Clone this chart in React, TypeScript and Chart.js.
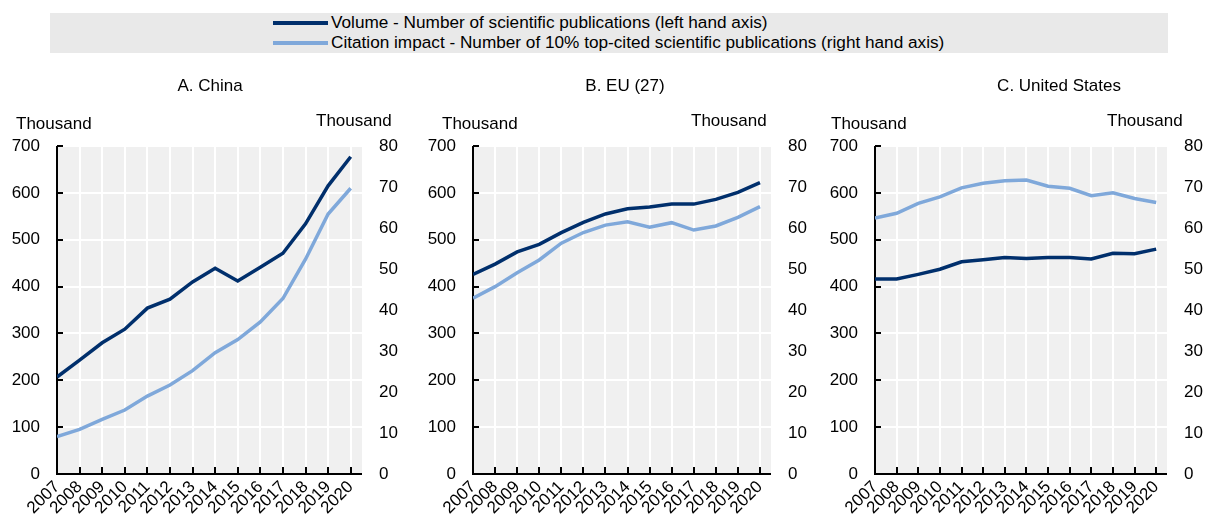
import React, { useEffect, useRef } from "react";
import { Chart, registerables } from "chart.js";

Chart.register(...registerables);

// ---------- DATA ----------
const years = [2007, 2008, 2009, 2010, 2011, 2012, 2013, 2014, 2015, 2016, 2017, 2018, 2019, 2020];

const chinaVolume = [207, 243, 280, 309, 354, 373, 410, 439, 412, 441, 471, 534, 615, 677];
const chinaCitation = [9.1, 10.9, 13.3, 15.6, 19.0, 21.7, 25.2, 29.6, 32.8, 37.1, 42.8, 52.4, 63.4, 69.7];

const euVolume = [426, 448, 474, 490, 515, 537, 555, 566, 570, 576, 576, 586, 601, 622];
const euCitation = [42.9, 45.7, 49.1, 52.2, 56.3, 58.9, 60.7, 61.5, 60.2, 61.3, 59.5, 60.5, 62.6, 65.2];

const usVolume = [416, 416, 426, 437, 453, 457, 462, 460, 462, 462, 459, 471, 470, 480];
const usCitation = [62.4, 63.6, 66.0, 67.6, 69.8, 70.9, 71.5, 71.7, 70.2, 69.7, 67.9, 68.6, 67.2, 66.2];

const leftTicks = [0, 100, 200, 300, 400, 500, 600, 700];
const rightTicks = [0, 10, 20, 30, 40, 50, 60, 70, 80];

const volumeLabel = "Volume - Number of scientific publications (left hand axis)";
const citationLabel = "Citation impact - Number of 10% top-cited scientific publications (right hand axis)";
const unitLabel = "Thousand";

// ---------- STYLE ----------
const FONT = '"Liberation Sans", Arial, sans-serif';
const FS = 17;
const DARK = "#002F6C";
const LIGHT = "#7FA8DA";
const PLOT_BG = "#F0F0F0";

type Panel = {
  title: string;
  volume: number[];
  citation: number[];
  left: number;
  width: number;
  leftW: number;
  rightW: number;
  titleX: number;
  unitL: number;
  unitR: number;
};

const panels: Panel[] = [
  { title: "A. China", volume: chinaVolume, citation: chinaCitation, left: 0, width: 400, leftW: 57, rightW: 38, titleX: 210, unitL: 16, unitR: 316 },
  { title: "B. EU (27)", volume: euVolume, citation: euCitation, left: 400, width: 410, leftW: 73, rightW: 39, titleX: 625, unitL: 442, unitR: 691 },
  { title: "C. United States", volume: usVolume, citation: usCitation, left: 810, width: 395, leftW: 65, rightW: 38, titleX: 1059, unitL: 831, unitR: 1107 },
];

const CANVAS_TOP = 60;
const CANVAS_H = 456;
const PLOT_TOP = 86; // relative to canvas
const XAXIS_H = 42;

const decorPlugin = {
  id: "decor",
  beforeDraw(chart: any) {
    const { ctx, chartArea: a } = chart;
    ctx.save();
    ctx.fillStyle = PLOT_BG;
    ctx.fillRect(a.left, a.top, a.right - a.left, a.bottom - a.top);
    ctx.restore();
  },
  beforeDatasetsDraw(chart: any) {
    const { ctx, chartArea: a, scales } = chart;
    ctx.save();
    ctx.strokeStyle = "#000";
    ctx.lineWidth = 2;
    ctx.beginPath();
    ctx.moveTo(a.left, a.top);
    ctx.lineTo(a.left, a.bottom);
    ctx.lineTo(a.right, a.bottom);
    for (const v of leftTicks) {
      const y = Math.round(scales.y.getPixelForValue(v));
      ctx.moveTo(a.left, y);
      ctx.lineTo(a.left + 6, y);
    }
    for (const v of years) {
      const x = Math.round(scales.x.getPixelForValue(v));
      ctx.moveTo(x, a.bottom);
      ctx.lineTo(x, a.bottom - 7);
    }
    ctx.stroke();
    ctx.restore();
  },
};

function PanelChart({ p }: { p: Panel }) {
  const ref = useRef<HTMLCanvasElement | null>(null);
  useEffect(() => {
    if (!ref.current) return;
    const chart = new Chart(ref.current, {
      type: "line",
      data: {
        datasets: [
          {
            label: volumeLabel,
            data: years.map((y, i) => ({ x: y, y: p.volume[i] })),
            borderColor: DARK,
            backgroundColor: DARK,
            borderWidth: 3.5,
            pointRadius: 0,
            tension: 0,
            yAxisID: "y",
            order: 1,
          },
          {
            label: citationLabel,
            data: years.map((y, i) => ({ x: y, y: p.citation[i] })),
            borderColor: LIGHT,
            backgroundColor: LIGHT,
            borderWidth: 3.5,
            pointRadius: 0,
            tension: 0,
            yAxisID: "y1",
            order: 2,
          },
        ],
      },
      options: {
        animation: false,
        responsive: false,
        layout: { padding: { top: PLOT_TOP, left: 0, right: 0, bottom: 0 } },
        plugins: { legend: { display: false }, tooltip: { enabled: false }, title: { display: false } },
        scales: {
          x: {
            type: "linear",
            min: years[0],
            max: years[years.length - 1] + 0.5,
            afterBuildTicks: (s: any) => {
              s.ticks = years.map((v) => ({ value: v }));
            },
            afterFit: (s: any) => {
              s.height = XAXIS_H;
            },
            grid: { color: "#FFFFFF", lineWidth: 2, drawTicks: false },
            border: { display: false },
            ticks: {
              autoSkip: false,
              minRotation: 45,
              maxRotation: 45,
              padding: 3,
              color: "#000",
              font: { family: FONT, size: FS },
              callback: (v: any) => String(v),
            },
          },
          y: {
            type: "linear",
            position: "left",
            min: 0,
            max: 700,
            afterBuildTicks: (s: any) => {
              s.ticks = leftTicks.map((v) => ({ value: v }));
            },
            afterFit: (s: any) => {
              s.width = p.leftW;
            },
            grid: { color: "#FFFFFF", lineWidth: 2, drawTicks: false },
            border: { display: false },
            ticks: { padding: 17, color: "#000", font: { family: FONT, size: FS } },
          },
          y1: {
            type: "linear",
            position: "right",
            min: 0,
            max: 80,
            afterBuildTicks: (s: any) => {
              s.ticks = rightTicks.map((v) => ({ value: v }));
            },
            afterFit: (s: any) => {
              s.width = p.rightW;
            },
            grid: { display: false, drawTicks: false },
            border: { display: false },
            ticks: { padding: 17, color: "#000", font: { family: FONT, size: FS } },
          },
        },
      },
      plugins: [decorPlugin],
    } as any);
    return () => chart.destroy();
  }, [p]);

  return (
    <>
      <canvas
        ref={ref}
        width={p.width}
        height={CANVAS_H}
        style={{ position: "absolute", left: p.left, top: CANVAS_TOP, width: p.width, height: CANVAS_H }}
      />
      <div style={{ ...textStyle, left: p.titleX, top: 85, transform: "translate(-50%, -50%)" }}>{p.title}</div>
      <div style={{ ...textStyle, left: p.unitL, top: 123, transform: "translateY(-50%)" }}>{unitLabel}</div>
      <div style={{ ...textStyle, left: p.unitR, top: 120, transform: "translateY(-50%)" }}>{unitLabel}</div>
    </>
  );
}

const textStyle: React.CSSProperties = {
  position: "absolute",
  fontFamily: FONT,
  fontSize: FS,
  lineHeight: 1,
  color: "#000",
  whiteSpace: "nowrap",
};

export default function App() {
  return (
    <div style={{ position: "absolute", left: 0, top: 0, width: 1205, height: 516, background: "#fff", overflow: "hidden" }}>
      <div style={{ position: "absolute", left: 50, top: 13, width: 1118, height: 40, background: "#E9E9E9" }} />
      {[
        { label: volumeLabel, color: DARK, y: 23 },
        { label: citationLabel, color: LIGHT, y: 43 },
      ].map((it) => (
        <React.Fragment key={it.label}>
          <div style={{ position: "absolute", left: 273, top: it.y - 2, width: 55, height: 4, background: it.color }} />
          <div style={{ ...textStyle, fontSize: 17.2, left: 331, top: it.y, transform: "translateY(-50%)" }}>
            {it.label}
          </div>
        </React.Fragment>
      ))}
      {panels.map((p) => (
        <PanelChart key={p.title} p={p} />
      ))}
    </div>
  );
}
